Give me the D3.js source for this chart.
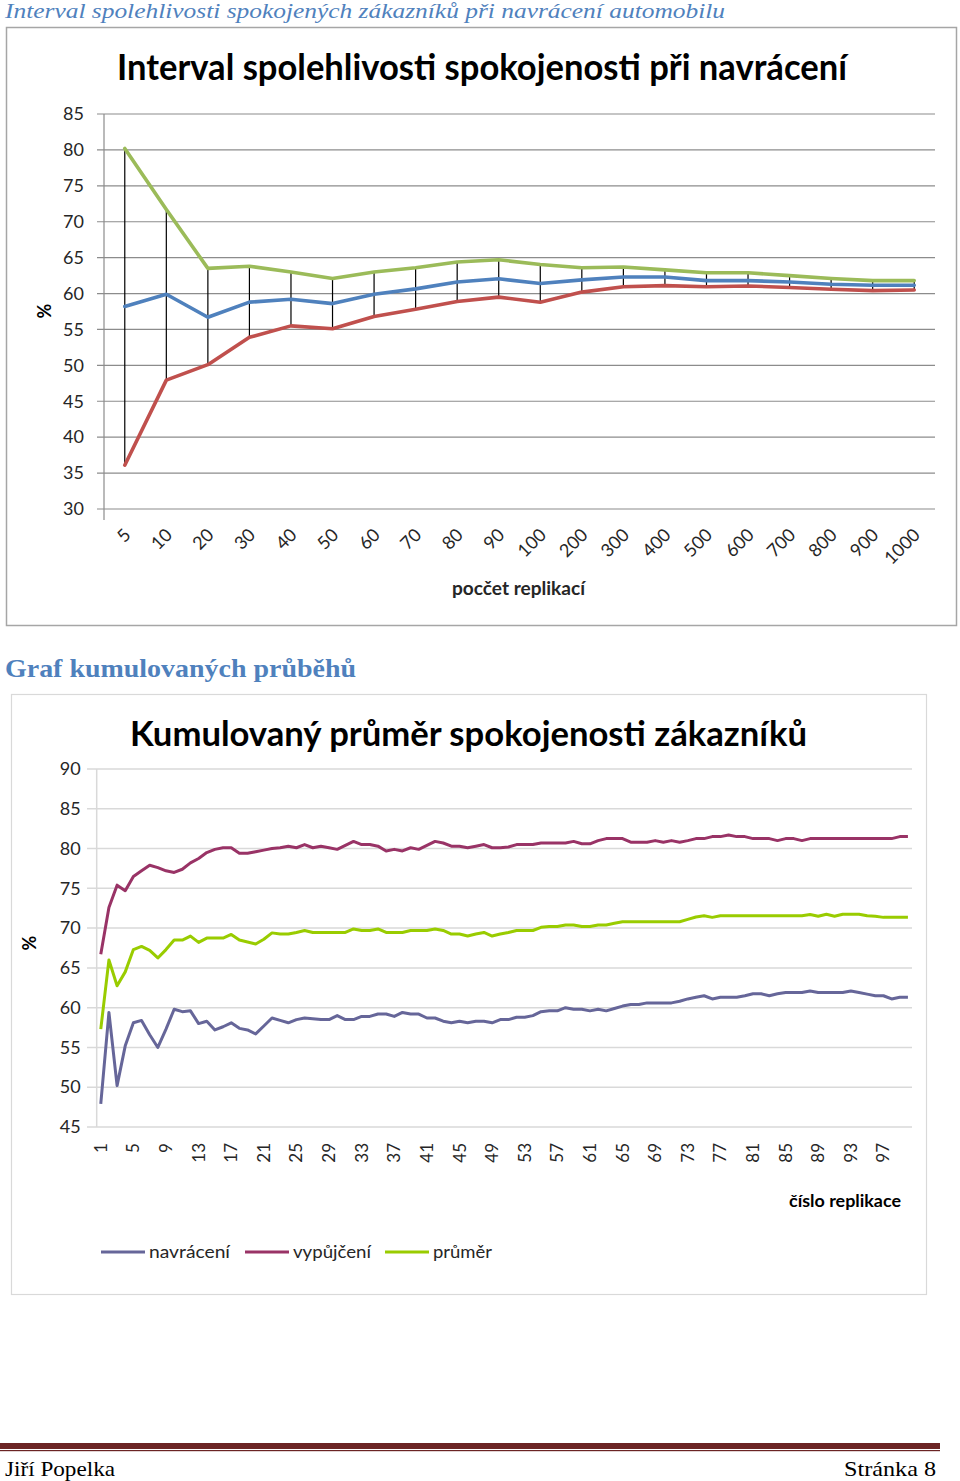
<!DOCTYPE html>
<html><head><meta charset="utf-8">
<script src="https://cdn.jsdelivr.net/npm/d3@7"></script>
<style>body{margin:0;background:#fff}svg{display:block}</style>
</head><body>
<svg id="page" width="960" height="1481"></svg>
<script>
// ---------- DATA: chart 1 ----------
const categories1 = ["5","10","20","30","40","50","60","70","80","90","100","200","300","400","500","600","700","800","900","1000"];
const lower1 = [36.1,47.95,50.1,53.9,55.5,55.1,56.8,57.8,58.9,59.5,58.8,60.2,60.95,61.1,60.95,61.05,60.85,60.6,60.4,60.5];
const mean1  = [58.2,59.9,56.7,58.8,59.2,58.6,59.9,60.65,61.6,62.05,61.4,61.9,62.3,62.3,61.8,61.8,61.6,61.3,61.15,61.15];
const upper1 = [80.2,71.7,63.5,63.8,63.0,62.1,63.0,63.6,64.4,64.7,64.05,63.6,63.7,63.3,62.9,62.9,62.5,62.1,61.8,61.8];
const yTicks1 = [30,35,40,45,50,55,60,65,70,75,80,85];

// ---------- DATA: chart 2 ----------
const navraceni = [47.9,59.4,50.2,55.2,58.1,58.4,56.6,55.0,57.3,59.8, 59.5,59.6,58.0,58.3,57.2,57.6,58.1,57.4,57.2,56.7,
 57.7,58.7,58.4,58.1,58.5,58.7,58.6,58.5,58.5,59.0, 58.5,58.5,58.9,58.9,59.2,59.2,58.9,59.4,59.2,59.2,
 58.7,58.7,58.3,58.1,58.3,58.1,58.3,58.3,58.1,58.5, 58.5,58.8,58.8,59.0,59.5,59.6,59.6,60.0,59.8,59.8,
 59.6,59.8,59.6,59.9,60.2,60.4,60.4,60.6,60.6,60.6, 60.6,60.8,61.1,61.3,61.5,61.1,61.3,61.3,61.3,61.5,
 61.75,61.75,61.5,61.75,61.9,61.9,61.9,62.1,61.9,61.9, 61.9,61.9,62.1,61.9,61.7,61.5,61.5,61.1,61.3,61.3];
const vypujceni = [66.7,72.6,75.4,74.7,76.5,77.2,77.9,77.6,77.2,77.0, 77.4,78.2,78.75,79.5,79.9,80.1,80.1,79.4,79.4,79.6,
 79.8,80.0,80.1,80.3,80.1,80.5,80.1,80.3,80.1,79.9, 80.4,80.9,80.5,80.5,80.3,79.7,79.9,79.7,80.1,79.9,
 80.4,80.9,80.7,80.3,80.3,80.1,80.3,80.5,80.1,80.1, 80.2,80.5,80.5,80.5,80.7,80.7,80.7,80.7,80.9,80.6,
 80.6,81.0,81.25,81.25,81.25,80.8,80.8,80.8,81.0,80.8, 81.0,80.8,81.0,81.25,81.25,81.5,81.5,81.7,81.5,81.5,
 81.25,81.25,81.25,81.0,81.25,81.25,81.0,81.25,81.25,81.25, 81.25,81.25,81.25,81.25,81.25,81.25,81.25,81.25,81.5,81.5];
const prumer = [57.3,66.0,62.75,64.5,67.3,67.7,67.2,66.25,67.3,68.5, 68.5,69.0,68.2,68.75,68.75,68.75,69.2,68.5,68.25,68.0,
 68.6,69.4,69.25,69.25,69.45,69.7,69.45,69.45,69.45,69.45, 69.45,69.9,69.7,69.7,69.9,69.45,69.45,69.45,69.7,69.7,
 69.7,69.9,69.7,69.25,69.25,69.0,69.25,69.45,69.0,69.25, 69.45,69.7,69.7,69.7,70.1,70.2,70.2,70.4,70.4,70.2,
 70.2,70.4,70.4,70.6,70.8,70.8,70.8,70.8,70.8,70.8, 70.8,70.8,71.1,71.4,71.55,71.35,71.55,71.55,71.55,71.55,
 71.55,71.55,71.55,71.55,71.55,71.55,71.55,71.7,71.5,71.75, 71.5,71.75,71.75,71.75,71.55,71.5,71.35,71.35,71.35,71.35];
const replications = d3.range(1, 101);
const xTickLabels2 = [1,5,9,13,17,21,25,29,33,37,41,45,49,53,57,61,65,69,73,77,81,85,89,93,97];
const yTicks2 = [45,50,55,60,65,70,75,80,85,90];
const seriesNames2 = ["navrácení","vypůjčení","průměr"];
const seriesColors2 = ["#666699","#993366","#99CC00"];

const svg = d3.select("#page");
svg.append("rect").attr("width",960).attr("height",1481).attr("fill","#fff");
const SANS = "Lato, 'Open Sans', sans-serif";
const SERIF = "'Liberation Serif', 'DejaVu Serif', serif";
function fit(sel, w){ sel.attr("textLength", w).attr("lengthAdjust","spacingAndGlyphs"); return sel; }

// ---------- page header ----------
fit(svg.append("text").attr("x",5).attr("y",18).attr("font-family",SERIF).attr("font-style","italic")
  .attr("font-size",20).attr("fill","#4F81BD").text("Interval spolehlivosti spokojených zákazníků při navrácení automobilu"), 720);

// ---------- chart 1 ----------
const g1 = svg.append("g");
g1.append("rect").attr("x",6.5).attr("y",27.5).attr("width",950).attr("height",598)
  .attr("fill","#fff").attr("stroke","#a6a6a6").attr("stroke-width",1.5);
fit(g1.append("text").attr("x",117).attr("y",80).attr("font-family",SANS).attr("font-weight","bold")
  .attr("font-size",36).attr("fill","#000").text("Interval spolehlivosti spokojenosti při navrácení"), 730);

const x1 = d3.scaleBand().domain(categories1).range([104,935]).padding(0);
const y1 = d3.scaleLinear().domain([30,85]).range([509,114]);
const cx1 = d => x1(d) + x1.bandwidth()/2;

// gridlines
g1.append("g").selectAll("line").data(yTicks1).join("line")
  .attr("x1",97).attr("x2",935).attr("y1",d=>y1(d)).attr("y2",d=>y1(d))
  .attr("stroke","#8c8c8c").attr("stroke-width",1.2);
// y axis
const ax1 = g1.append("g").attr("transform","translate(104,0)")
  .call(d3.axisLeft(y1).tickValues(yTicks1).tickSize(0).tickPadding(20));
ax1.select(".domain").attr("stroke","#8c8c8c").attr("stroke-width",1.2).attr("d","M0,114V520");
ax1.selectAll("text").attr("font-family",SANS).attr("font-size",18).attr("fill","#262626");
g1.append("text").attr("transform","translate(51,311) rotate(-90)").attr("text-anchor","middle")
  .attr("font-family",SANS).attr("font-weight","bold").attr("font-size",18).text("%");
// x axis labels
const axx1 = g1.append("g").attr("transform","translate(0,509)")
  .call(d3.axisBottom(x1).tickSize(0).tickPadding(0));
axx1.select(".domain").remove();
axx1.selectAll("text").attr("font-family",SANS).attr("font-size",18).attr("fill","#262626")
  .attr("text-anchor","end").attr("dy",0)
  .attr("transform","translate(7,27) rotate(-45)");
fit(g1.append("text").attr("x",452).attr("y",595).attr("font-family",SANS).attr("font-weight","bold")
  .attr("font-size",18).attr("fill","#262626").text("pocčet replikací"), 133);

// high-low lines
g1.append("g").selectAll("line").data(categories1).join("line")
  .attr("x1",d=>cx1(d)).attr("x2",d=>cx1(d))
  .attr("y1",(d,i)=>y1(upper1[i])).attr("y2",(d,i)=>y1(lower1[i]))
  .attr("stroke","#000").attr("stroke-width",1.2);
const line1 = vals => d3.line().x((d,i)=>cx1(categories1[i])).y(d=>y1(d))(vals);
[[upper1,"#9BBB59"],[mean1,"#4F81BD"],[lower1,"#C0504D"]].forEach(([v,c])=>{
  g1.append("path").attr("d",line1(v)).attr("fill","none").attr("stroke",c)
    .attr("stroke-width",3.6).attr("stroke-linejoin","round").attr("stroke-linecap","round");
});

// ---------- section heading ----------
fit(svg.append("text").attr("x",5).attr("y",677).attr("font-family",SERIF).attr("font-weight","bold")
  .attr("font-size",25).attr("fill","#4F81BD").text("Graf kumulovaných průběhů"), 351);

// ---------- chart 2 ----------
const g2 = svg.append("g");
g2.append("rect").attr("x",11.5).attr("y",694.5).attr("width",915).attr("height",600)
  .attr("fill","#fff").attr("stroke","#d9d9d9").attr("stroke-width",1.2);
fit(g2.append("text").attr("x",130).attr("y",746).attr("font-family",SANS).attr("font-weight","bold")
  .attr("font-size",34).attr("fill","#000").text("Kumulovaný průměr spokojenosti zákazníků"), 677);

const x2 = d3.scaleBand().domain(replications).range([96.7,912]).padding(0);
const y2 = d3.scaleLinear().domain([45,90]).range([1127,769]);
const cx2 = d => x2(d) + x2.bandwidth()/2;

g2.append("g").selectAll("line").data(yTicks2).join("line")
  .attr("x1",87).attr("x2",912).attr("y1",d=>y2(d)).attr("y2",d=>y2(d))
  .attr("stroke","#d9d9d9").attr("stroke-width",1.5);
const ay2 = g2.append("g").attr("transform","translate(96.7,0)")
  .call(d3.axisLeft(y2).tickValues(yTicks2).tickSize(0).tickPadding(16));
ay2.select(".domain").attr("stroke","#d9d9d9").attr("stroke-width",1.5).attr("d","M0,769V1127");
ay2.selectAll("text").attr("font-family",SANS).attr("font-size",18).attr("fill","#262626");
g2.append("text").attr("transform","translate(36,943) rotate(-90)").attr("text-anchor","middle")
  .attr("font-family",SANS).attr("font-weight","bold").attr("font-size",18).text("%");

const axx2 = g2.append("g").attr("transform","translate(0,1127)")
  .call(d3.axisBottom(x2).tickValues(xTickLabels2).tickSize(0).tickPadding(0));
axx2.select(".domain").remove();
axx2.selectAll("text").attr("font-family",SANS).attr("font-size",17).attr("fill","#262626")
  .attr("text-anchor","end").attr("dy",0)
  .attr("transform","translate(6,16) rotate(-90)");
fit(g2.append("text").attr("x",789).attr("y",1207).attr("font-family",SANS).attr("font-weight","bold")
  .attr("font-size",17).attr("fill","#000").text("číslo replikace"), 112);

const line2 = d3.line().x((d,i)=>cx2(replications[i])).y(d=>y2(d));
[navraceni, vypujceni, prumer].forEach((v,k)=>{
  g2.append("path").attr("d",line2(v)).attr("fill","none").attr("stroke",seriesColors2[k])
    .attr("stroke-width",3).attr("stroke-linejoin","round");
});

// legend
const legX = [101,245,385], legW = [81,78,59];
const leg = g2.append("g").selectAll("g").data(seriesNames2).join("g")
  .attr("transform",(d,i)=>`translate(${legX[i]},1252)`);
leg.append("line").attr("x1",0).attr("x2",44).attr("stroke",(d,i)=>seriesColors2[i]).attr("stroke-width",3);
leg.each(function(d,i){
  fit(d3.select(this).append("text").attr("x",48).attr("y",6).attr("font-family",SANS)
    .attr("font-size",17).attr("fill","#262626").text(d), legW[i]);
});

// ---------- footer ----------
svg.append("rect").attr("x",0).attr("y",1443).attr("width",940).attr("height",6).attr("fill","#6b2424");
svg.append("rect").attr("x",0).attr("y",1450).attr("width",940).attr("height",1.2).attr("fill","#6b2424");
fit(svg.append("text").attr("x",5).attr("y",1476).attr("font-family",SERIF).attr("font-size",22)
  .attr("fill","#000").text("Jiří Popelka"), 110);
fit(svg.append("text").attr("x",936).attr("y",1476).attr("text-anchor","end").attr("font-family",SERIF)
  .attr("font-size",22).attr("fill","#000").text("Stránka 8"), 92);
</script>
</body></html>
